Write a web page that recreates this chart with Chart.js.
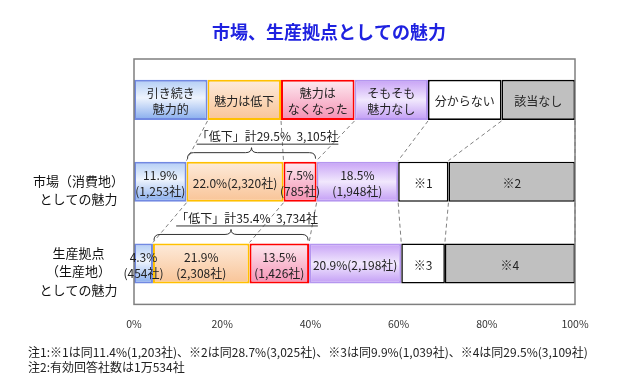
<!DOCTYPE html>
<html><head><meta charset="utf-8">
<script src="https://cdn.jsdelivr.net/npm/chart.js@4"></script>
<style>html,body{margin:0;padding:0;background:#fff}#wrap{width:640px;height:386px}</style>
</head><body><div id="wrap"><canvas id="c" width="640" height="386"></canvas></div>
<script>
// ---- data ----
const categories = ['', ['市場（消費地）','としての魅力'], ['生産拠点','（生産地）','としての魅力']];
const seriesNames = ['引き続き魅力的','魅力は低下','魅力はなくなった','そもそも魅力なし','分からない','該当なし'];
// first row = legend strip (equal widths), then 市場, 生産拠点
const keepAttractive  = [16.67, 11.9, 4.3];
const declined        = [16.67, 22.0, 21.9];
const lost            = [16.66, 7.5, 13.5];
const neverAttractive = [16.67, 18.5, 20.9];
const unknown         = [16.67, 11.4, 9.9];
const notApplicable   = [16.66, 28.7, 29.5];

const labelsKeep     = [['引き続き','魅力的'], ['11.9%','(1,253社)'], ['4.3%','(454社)']];
const labelsDeclined = [['魅力は低下'], ['22.0%(2,320社)'], ['21.9%','(2,308社)']];
const labelsLost     = [['魅力は','なくなった'], ['7.5%','(785社)'], ['13.5%','(1,426社)']];
const labelsNever    = [['そもそも','魅力なし'], ['18.5%','(1,948社)'], ['20.9%(2,198社)']];
const labelsUnknown  = [['分からない'], ['※1'], ['※3']];
const labelsNA       = [['該当なし'], ['※2'], ['※4']];

const declineTotals = [null, '「低下」計29.5%  3,105社', '「低下」計35.4%  3,734社'];
const xTickLabels = ['0%','20%','40%','60%','80%','100%'];
const titleText = '市場、生産拠点としての魅力';
const notes = ['注1:※1は同11.4%(1,203社)、※2は同28.7%(3,025社)、※3は同9.9%(1,039社)、※4は同29.5%(3,109社)',
               '注2:有効回答社数は1万534社'];

// ---- style ----
const FONT = "'Noto Sans CJK JP', 'Noto Sans', sans-serif";
Chart.defaults.font.family = FONT;
const BAR_FRAC = 0.49;

function vgrad(stops){
  return (c)=>{
    const chart = c.chart, area = chart.chartArea;
    if (!area || !chart.scales.y) return stops[stops.length-1][1];
    const yc = chart.scales.y.getPixelForValue(c.dataIndex);
    const half = (area.bottom-area.top)/categories.length*BAR_FRAC/2;
    const g = chart.ctx.createLinearGradient(0, yc-half, 0, yc+half);
    stops.forEach(([o,col])=>g.addColorStop(o,col));
    return g;
  };
}

const styles = [
  {bg: vgrad([[0,'#b2cdf5'],[0.45,'#eef4fd'],[1,'#86acee']]), border:'#7189e2', bw:2},
  {bg: vgrad([[0,'#fdebdb'],[1,'#f9c497']]), border:'#ffc000', bw:2},
  {bg: vgrad([[0,'#fdebf1'],[1,'#f590b3']]), border:'#ff0000', bw:2},
  {bg: vgrad([[0,'#c7a1f6'],[0.5,'#f1e8fd'],[1,'#c29cf5']]), border:'#b596ef', bw:2},
  {bg: '#ffffff', border:'#000000', bw:1.6},
  {bg: '#c0c0c0', border:'#000000', bw:1.6},
];
const seriesData = [keepAttractive, declined, lost, neverAttractive, unknown, notApplicable];
const seriesLabels = [labelsKeep, labelsDeclined, labelsLost, labelsNever, labelsUnknown, labelsNA];

const overlay = {
  id: 'overlay',
  afterDatasetsDraw(chart){
    const ctx = chart.ctx, area = chart.chartArea;
    const metas = chart.data.datasets.map((d,i)=>chart.getDatasetMeta(i));
    ctx.save();
    // title
    ctx.font = 'bold 18px ' + FONT; ctx.fillStyle = '#1f22e0';
    ctx.textAlign = 'center'; ctx.textBaseline = 'middle';
    ctx.fillText(titleText, 329, 32);
    // frame
    ctx.strokeStyle = '#7f7f7f'; ctx.lineWidth = 1.5;
    ctx.strokeRect(area.left, area.top, area.right-area.left, area.bottom-area.top);
    // dashed connectors between rows
    ctx.setLineDash([4,3]); ctx.strokeStyle = '#808080'; ctx.lineWidth = 1;
    for (let r=0; r<categories.length-1; r++){
      for (let s=0; s<metas.length; s++){
        const a = metas[s].data[r], b = metas[s].data[r+1];
        ctx.beginPath();
        ctx.moveTo(a.x, a.y + a.height/2 + 1);
        ctx.lineTo(b.x, b.y - b.height/2 - 1);
        ctx.stroke();
      }
    }
    ctx.setLineDash([]);
    // segment labels
    ctx.fillStyle = '#222'; ctx.textAlign = 'center'; ctx.textBaseline = 'middle';
    for (let s=0; s<metas.length; s++){
      for (let r=0; r<categories.length; r++){
        const lines = seriesLabels[s][r]; if (!lines) continue;
        const el = metas[s].data[r];
        ctx.font = '12px ' + FONT;
        const cx = (el.x + el.base)/2, cy = el.y + 1.5;
        const lh = 16;
        lines.forEach((t,i)=>ctx.fillText(t, cx, cy + (i-(lines.length-1)/2)*lh));
      }
    }
    // braces for 「低下」
    ctx.strokeStyle = '#333'; ctx.lineWidth = 1;
    for (let r=0; r<categories.length; r++){
      const txt = declineTotals[r]; if (!txt) continue;
      const e1 = metas[1].data[r], e2 = metas[2].data[r];
      const x1 = e1.base + 1, x2 = e2.x - 1, top = e1.y - e1.height/2;
      const yEnd = top - 3, yLine = top - 9, yTip = top - 14, rr = 6;
      const xm = (x1+x2)/2;
      ctx.beginPath();
      ctx.moveTo(x1, yEnd);
      ctx.quadraticCurveTo(x1, yLine, x1+rr, yLine);
      ctx.lineTo(xm-rr, yLine);
      ctx.quadraticCurveTo(xm, yLine, xm, yTip);
      ctx.quadraticCurveTo(xm, yLine, xm+rr, yLine);
      ctx.lineTo(x2-rr, yLine);
      ctx.quadraticCurveTo(x2, yLine, x2, yEnd);
      ctx.stroke();
      ctx.font = '12px ' + FONT;
      const tx = xm + 16, ty = top - 25;
      const w = ctx.measureText(txt).width;
      ctx.fillStyle = '#222';
      ctx.fillText(txt, tx, ty);
      ctx.beginPath();
      ctx.moveTo(tx - w/2, ty + 7.5); ctx.lineTo(tx + w/2, ty + 7.5); ctx.stroke();
    }
    // notes
    ctx.font = '12px ' + FONT; ctx.textAlign = 'left'; ctx.fillStyle = '#222';
    notes.forEach((t,i)=>ctx.fillText(t, 28, 352 + i*15));
    ctx.restore();
  }
};

new Chart(document.getElementById('c'), {
  type: 'bar',
  data: {
    labels: categories,
    datasets: seriesData.map((d,i)=>({
      label: seriesNames[i], data: d,
      backgroundColor: styles[i].bg, borderColor: styles[i].border, borderWidth: styles[i].bw,
      borderSkipped: false, barPercentage: BAR_FRAC, categoryPercentage: 1
    }))
  },
  options: {
    indexAxis: 'y', responsive: false, animation: false,
    layout: {padding: {left: 0, right: 65, top: 59, bottom: 43}},
    plugins: {
      legend: {display: false}, tooltip: {enabled: false}, title: {display: false}
    },
    scales: {
      x: {stacked: true, min: 0, max: 100,
          grid: {display: false, drawTicks: false}, border: {display: false},
          ticks: {stepSize: 20, padding: 13, color: '#333', font: {size: 10.5},
                  callback: (v,i)=>xTickLabels[i]}},
      y: {stacked: true,
          grid: {display: false, drawTicks: false}, border: {display: false},
          afterFit: (s)=>{ s.width = 134; },
          ticks: {crossAlign: 'center', padding: 10, labelOffset: 8, color: '#111',
                  font: {size: 13, lineHeight: 1.4}}}
    }
  },
  plugins: [overlay]
});
</script></body></html>
